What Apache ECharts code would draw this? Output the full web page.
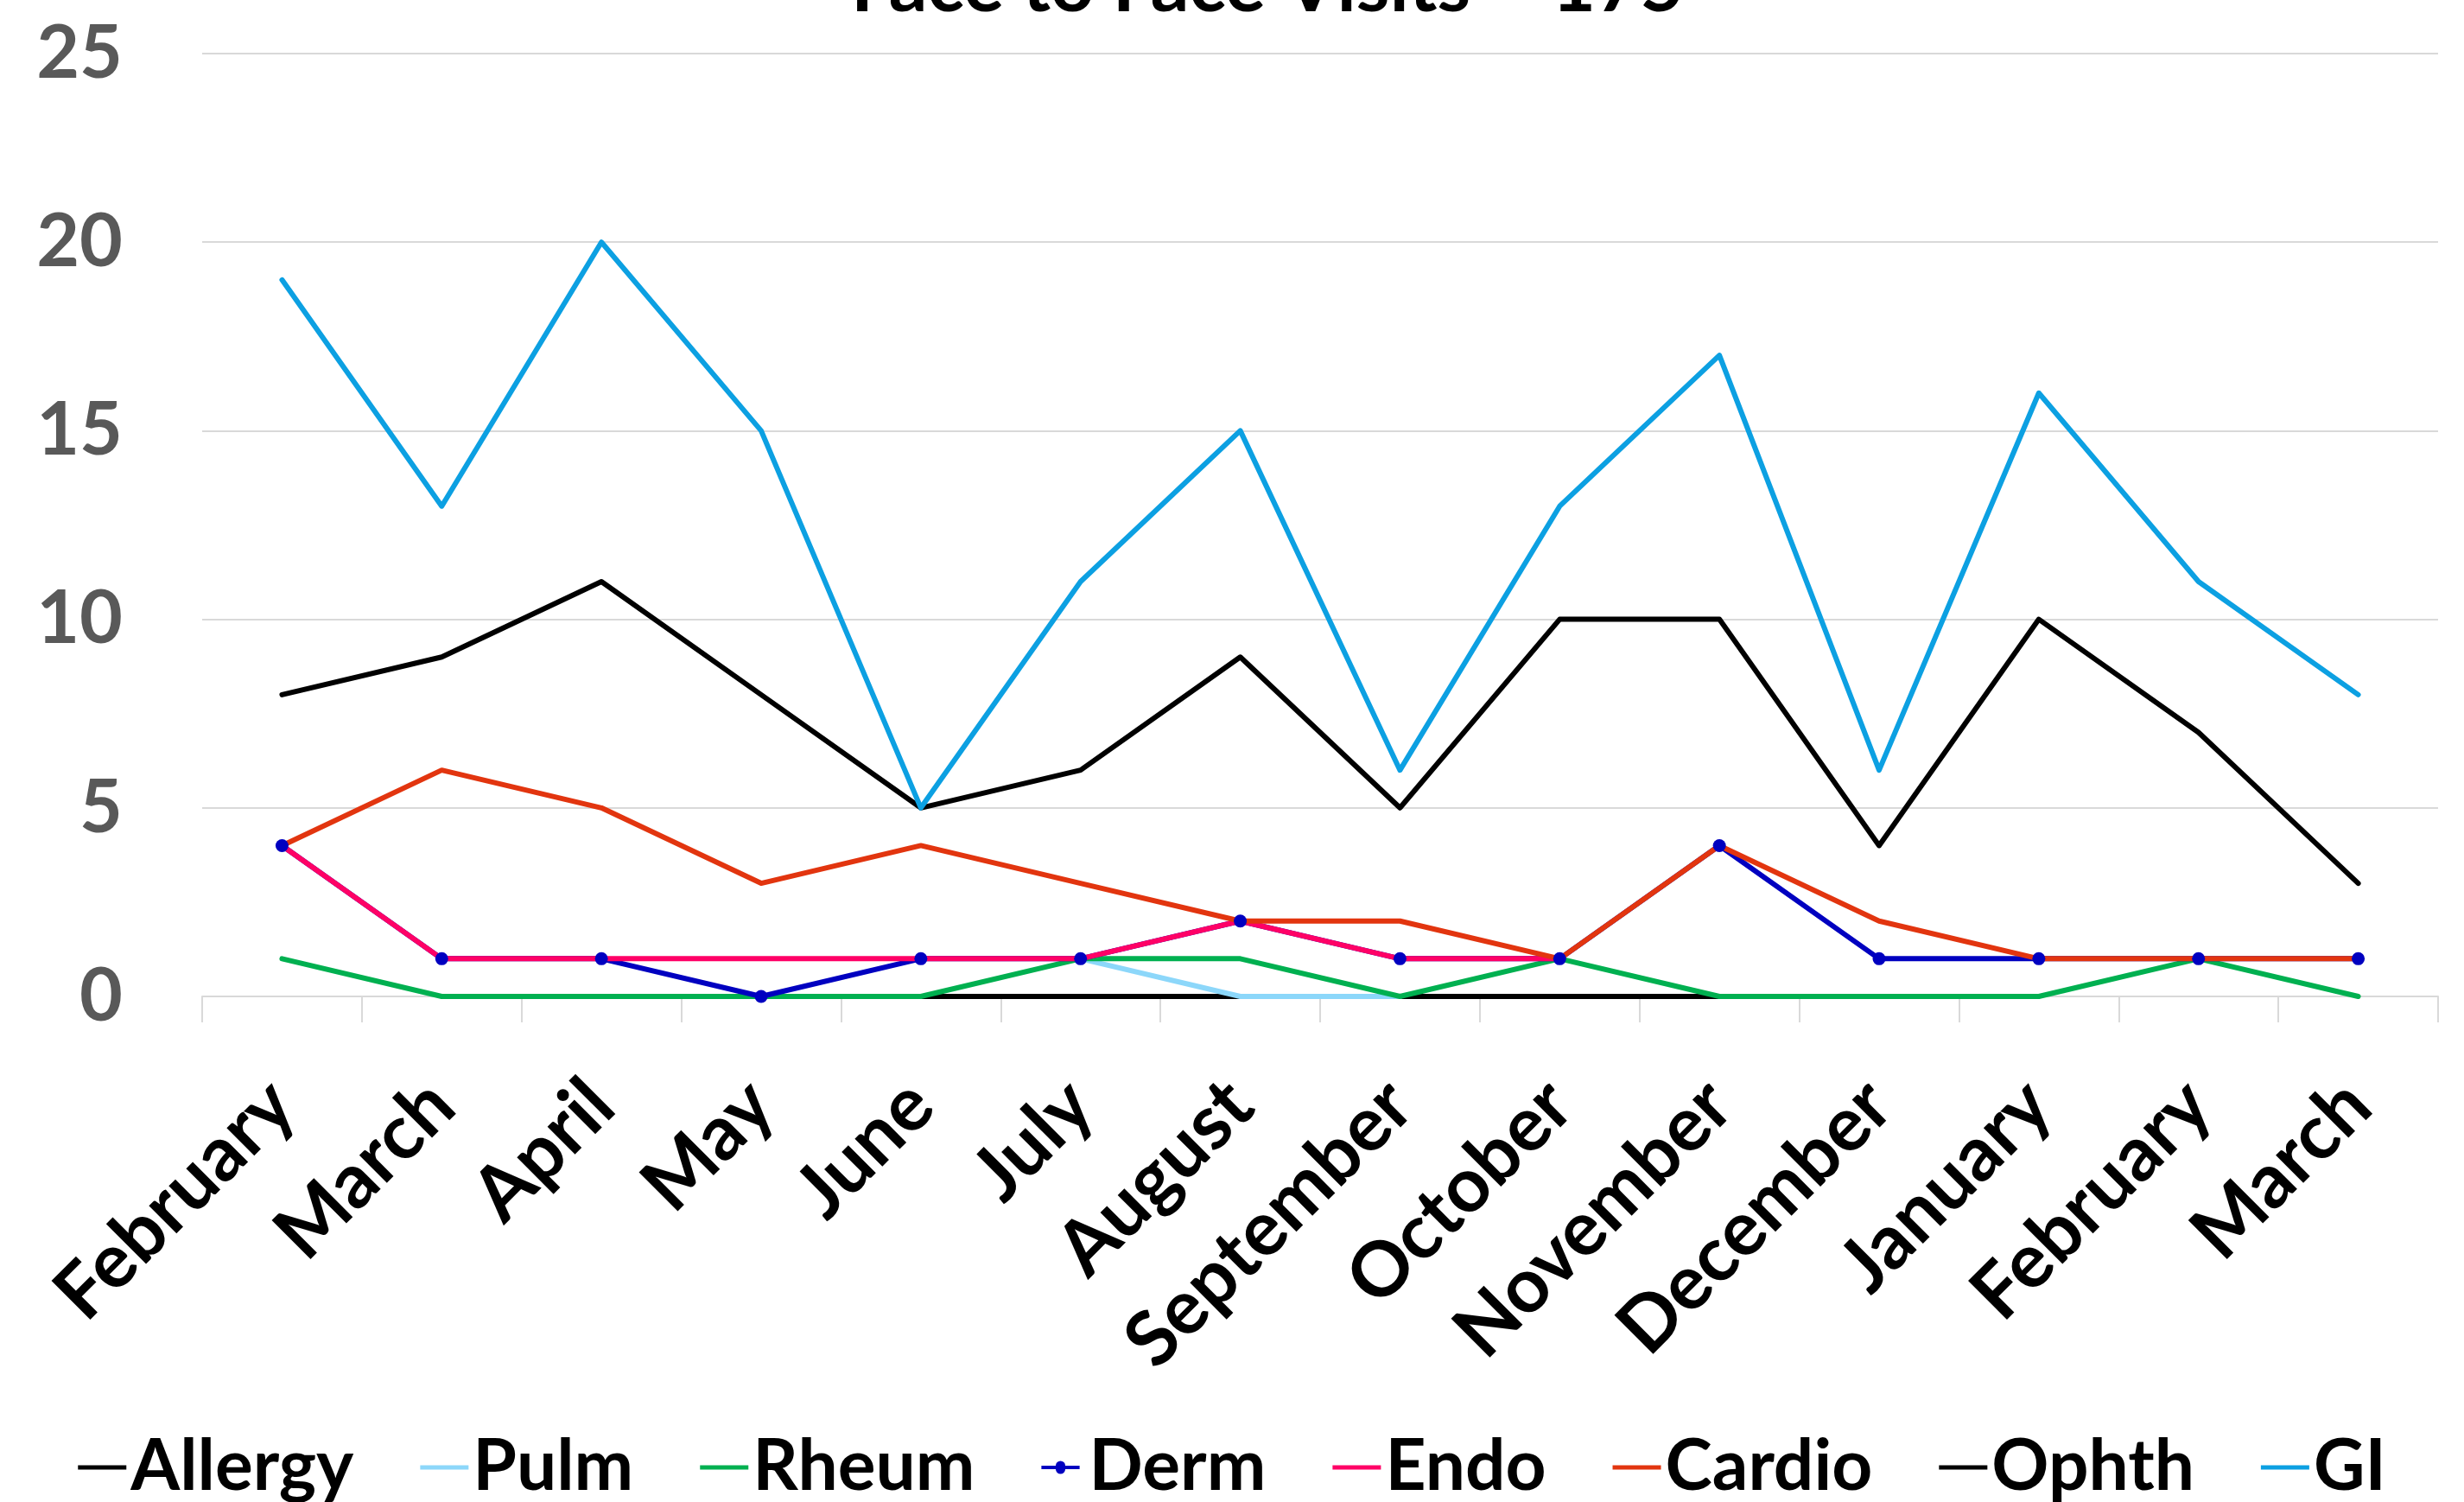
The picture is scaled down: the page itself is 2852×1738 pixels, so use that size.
<!DOCTYPE html>
<html>
<head>
<meta charset="utf-8">
<script src="https://cdn.jsdelivr.net/npm/echarts@6/dist/echarts.min.js"></script>
<style>
html,body{margin:0;padding:0;background:#fff;}
#chart{width:2852px;height:1738px;}
</style>
</head>
<body>
<div id="chart"></div>
<script>
const titleText = 'Face to Face Visits \u2013 175';
const months = ['February','March','April','May','June','July','August','September','October','November','December','January','February','March'];
const yTicks = [0, 5, 10, 15, 20, 25];

const allergy = [null, null, null, null, 0, 0, 0, 0, 0, 0, 0, null, null, null];
const pulm    = [null, null, null, null, null, 1, 0, 0, null, null, null, null, null, null];
const rheum   = [1, 0, 0, 0, 0, 1, 1, 0, 1, 0, 0, 0, 1, 0];
const derm    = [4, 1, 1, 0, 1, 1, 2, 1, 1, 4, 1, 1, 1, 1];
const endo    = [4, 1, 1, 1, 1, 1, 2, 1, 1, null, null, null, null, null];
const cardio  = [4, 6, 5, 3, 4, 3, 2, 2, 1, 4, 2, 1, 1, 1];
const ophth   = [8, 9, 11, 8, 5, 6, 9, 5, 10, 10, 4, 10, 7, 3];
const gi      = [19, 13, 20, 15, 5, 11, 15, 6, 13, 17, 6, 16, 11, 8];

const seriesDefs = [
  {name: 'Allergy', data: allergy, color: '#000000', marker: false},
  {name: 'Pulm',    data: pulm,    color: '#8CD7FA', marker: false},
  {name: 'Rheum',   data: rheum,   color: '#00B050', marker: false},
  {name: 'Derm',    data: derm,    color: '#0000C0', marker: true},
  {name: 'Endo',    data: endo,    color: '#FF0066', marker: false},
  {name: 'Cardio',  data: cardio,  color: '#E2350F', marker: false},
  {name: 'Ophth',   data: ophth,   color: '#000000', marker: false},
  {name: 'GI',      data: gi,      color: '#0CA0E2', marker: false}
];

const FONT = 'Lato';
const LINE_ICON = 'path://M0,0 L56,0 L56,5 L0,5 Z';
const DOT_ICON = 'path://M0,5 L21,5 A7,7 0 0 1 35,5 L56,5 L56,10 L35,10 A7,7 0 0 1 21,10 L0,10 Z';

const chart = echarts.init(document.getElementById('chart'), null, {renderer: 'canvas'});
chart.setOption({
  animation: false,
  backgroundColor: '#ffffff',
  title: {
    text: titleText,
    left: 980,
    top: -64,
    textStyle: {fontFamily: FONT, fontSize: 88, fontWeight: 'bold', color: '#000000'}
  },
  grid: {left: 234, right: 30, top: 62, bottom: 585, containLabel: false},
  legend: {
    top: 1652,
    left: 'center',
    itemWidth: 56,
    itemHeight: 15,
    itemGap: 77,
    textStyle: {fontFamily: FONT, fontSize: 82, fontWeight: 'bold', color: '#000000'},
    data: seriesDefs.map(s => ({name: s.name, icon: s.marker ? DOT_ICON : LINE_ICON}))
  },
  xAxis: {
    type: 'category',
    data: months,
    boundaryGap: true,
    axisLine: {show: true, lineStyle: {color: '#D9D9D9', width: 2}},
    axisTick: {show: true, interval: 0, length: 30, lineStyle: {color: '#D9D9D9', width: 2}},
    axisLabel: {
      interval: 0, rotate: 45, margin: 112,
      fontFamily: FONT, fontSize: 88, fontWeight: 'bold', color: '#000000'
    },
    splitLine: {show: false}
  },
  yAxis: {
    type: 'value',
    min: yTicks[0],
    max: yTicks[yTicks.length - 1],
    interval: yTicks[1] - yTicks[0],
    axisLine: {show: false},
    axisTick: {show: false},
    axisLabel: {margin: 92, fontFamily: FONT, fontSize: 86, fontWeight: 'bold', color: '#595959'},
    splitLine: {show: true, lineStyle: {color: '#D9D9D9', width: 2}}
  },
  series: seriesDefs.map(s => ({
    name: s.name,
    type: 'line',
    data: s.data,
    connectNulls: false,
    symbol: s.marker ? 'circle' : 'none',
    symbolSize: 15,
    showSymbol: s.marker,
    color: s.color,
    itemStyle: {color: s.color},
    lineStyle: {color: s.color, width: 6, cap: 'round', join: 'round'},
    emphasis: {disabled: true}
  }))
});
</script>
</body>
</html>
